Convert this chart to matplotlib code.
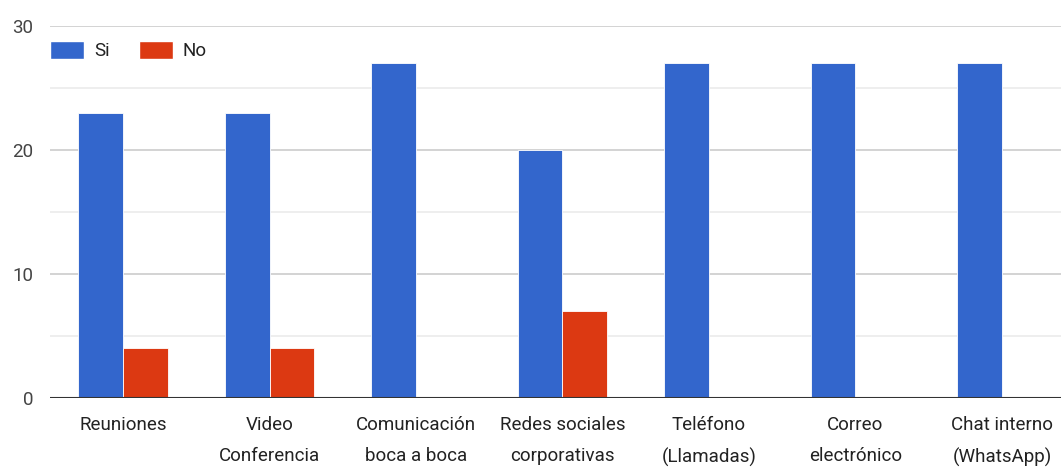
import matplotlib
matplotlib.use("Agg")
import matplotlib.pyplot as plt
from matplotlib.patches import Patch
from matplotlib.ticker import MultipleLocator
import numpy as np

categories = [
    "Reuniones",
    "Video\nConferencia",
    "Comunicación\nboca a boca",
    "Redes sociales\ncorporativas",
    "Teléfono\n(Llamadas)",
    "Correo\nelectrónico",
    "Chat interno\n(WhatsApp)",
]
si_values = [23, 23, 27, 20, 27, 27, 27]
no_values = [4, 4, 0, 7, 0, 0, 0]
series_names = ["Si", "No"]

BLUE = "#3366cc"
RED = "#dc3912"

plt.rcParams["font.family"] = ["Roboto", "DejaVu Sans"]

fig = plt.figure(figsize=(10.61, 4.69), dpi=100)
ax = fig.add_axes([0.0469, 0.1514, 0.9665, 0.793])

x = np.arange(len(categories))
w = 0.307
ax.bar(x - w / 2, si_values, width=w, color=BLUE, edgecolor="white", linewidth=0.6, zorder=3)
ax.bar(x + w / 2, [v if v else np.nan for v in no_values], width=w, color=RED,
       edgecolor="white", linewidth=0.6, zorder=3)

ax.set_xlim(-0.5, len(categories) - 0.5)
ax.set_ylim(0, 30)
ax.yaxis.set_major_locator(MultipleLocator(10))
ax.yaxis.set_minor_locator(MultipleLocator(5))
ax.grid(axis="y", which="major", color="#cccccc", linewidth=1.2, zorder=0)
ax.grid(axis="y", which="minor", color="#ebebeb", linewidth=1.2, zorder=0)
ax.axhline(0, color="#333333", linewidth=1.5, zorder=4)

for side in ["top", "right", "left", "bottom"]:
    ax.spines[side].set_visible(False)

ax.set_xticks(x)
ax.set_xticklabels(categories, linespacing=1.95, va="top")
ax.tick_params(axis="x", length=0, pad=13, labelsize=13.5, labelcolor="#222222")
ax.tick_params(axis="y", which="both", length=0, pad=12, labelsize=13.5, labelcolor="#444444")

handles = [Patch(facecolor=BLUE, edgecolor="white"), Patch(facecolor=RED, edgecolor="white")]
ax.legend(handles, series_names, loc="center left", bbox_to_anchor=(0.0, 0.935),
          ncol=2, frameon=False, fontsize=13.5, handlelength=1.85, handleheight=1.1,
          handletextpad=0.5, columnspacing=1.55, borderaxespad=0, borderpad=0,
          labelcolor="#222222")

fig.savefig("out.png", dpi=100)
